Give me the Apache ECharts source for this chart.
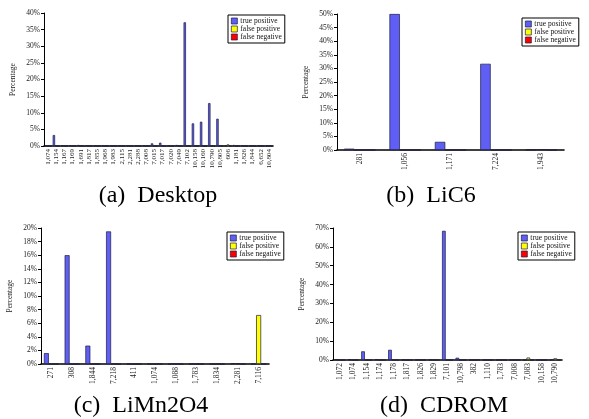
<!DOCTYPE html>
<html>
<head>
<meta charset="utf-8">
<script src="https://cdn.jsdelivr.net/npm/echarts@6/dist/echarts.min.js"></script>
<style>
html,body{margin:0;padding:0;background:#fff;}
#chart{width:589px;height:419px;}
</style>
</head>
<body>
<div id="chart"></div>
<script>
// ---- Data ----
const seriesNames = ['true positive', 'false positive', 'false negative'];

const desktopCats = ['1,074','1,154','1,167','1,169','1,691','1,817','1,855','1,968','1,983','2,115','2,281','2,288','7,008','7,015','7,017','7,020','7,049','7,102','10,158','10,160','10,790','10,805','606','1,181','1,826','1,844','6,652','10,804'];
const desktopTP = [0.1,3.3,0.1,0.2,0.3,0.1,0.1,0.1,0.1,0.1,0.1,0.1,0.1,0.8,1.0,0.1,0.3,37.2,6.8,7.3,12.9,8.2,0,0.3,0.1,0.1,0.1,0.1];
const desktopFP = [0,0,0,0,0,0,0,0,0,0,0,0,0,0,0,0,0,0,0,0,0,0,0.5,0,0,0,0,0];
const desktopFN = [0,0,0,0,0,0,0,0,0,0,0,0,0,0,0,0,0,0,0,0,0,0,0,0,0,0,0,0];

const lic6Cats = ['281','1,056','1,171','7,224','1,943'];
const lic6TP = [0.5,50,3,31.7,0.1];
const lic6FP = [0,0,0,0,0.3];
const lic6FN = [0,0,0,0,0];

const limnCats = ['271','308','1,844','7,218','411','1,074','1,088','1,783','1,834','2,281','7,116'];
const limnTP = [1.6,16,2.7,19.5,0,0,0,0,0,0.1,0];
const limnFP = [0,0,0,0,0,0,0,0,0,0.1,7.2];
const limnFN = [0,0,0,0,0,0,0,0,0,0,0];

const cdromCats = ['1,072','1,074','1,154','1,174','1,178','1,817','1,826','1,829','7,101','10,798','382','1,110','1,783','7,008','7,083','10,158','10,790'];
const cdromTP = [0.3,0.3,4.6,0.3,5.4,0.1,0.1,0.1,68.5,1.2,0,0,0,0,0,0,0];
const cdromFP = [0,0,0,0,0,0,0,0,0,0,0,0,0,0,1.3,0,0.9];
const cdromFN = [0,0,0,0,0,0,0,0,0,0,0,0,0,0,0,0,0];

const yMax = [40, 50, 20, 70];
const yStep = [5, 5, 2, 10];
const captions = ['(a)\u2002Desktop', '(b)\u2002LiC6', '(c)\u2002LiMn2O4', '(d)\u2002CDROM'];

// ---- Styling / layout ----
const serif = 'Liberation Serif, Times New Roman, serif';
const colors = ['#5f5ff5', '#ffff00', '#ff0000'];
const grids = [
  {left:44, top:13, width:229, height:133},
  {left:337, top:14, width:227, height:136},
  {left:41, top:228, width:228, height:136},
  {left:333, top:228, width:229, height:132}
];
const legendPos = [
  {left:228, top:15},
  {left:522, top:18},
  {left:227, top:232},
  {left:518, top:232}
];
const captionPos = [[158,196],[431,196],[141,406],[444,406]];

const panels = [
  {cats: desktopCats, data: [desktopTP, desktopFP, desktopFN], xfont: 7, bw: '29%'},
  {cats: lic6Cats, data: [lic6TP, lic6FP, lic6FN], xfont: 7.5, bw: '23%'},
  {cats: limnCats, data: [limnTP, limnFP, limnFN], xfont: 7.5, bw: '24%'},
  {cats: cdromCats, data: [cdromTP, cdromFP, cdromFN], xfont: 7.5, bw: '27%'}
];

const xAxis = [], yAxis = [], series = [], legend = [], graphic = [];
panels.forEach((p, i) => {
  xAxis.push({
    type:'category', gridIndex:i, data:p.cats, boundaryGap:true,
    axisLine:{lineStyle:{color:'#000', width:1.6}},
    axisTick:{inside:true, alignWithLabel:true, length:3, lineStyle:{color:'#000'}},
    axisLabel:{rotate:90, interval:0, fontSize:p.xfont, fontFamily:serif, color:'#222', margin:3},
    splitLine:{show:false}
  });
  yAxis.push({
    type:'value', gridIndex:i, min:0, max:yMax[i], interval:yStep[i],
    name:'Percentage', nameLocation:'middle', nameGap:27,
    nameTextStyle:{fontSize:7.5, fontFamily:serif, color:'#222'},
    axisLine:{show:true, lineStyle:{color:'#000', width:1}},
    axisTick:{show:true, length:3, lineStyle:{color:'#000'}},
    axisLabel:{formatter:'{value}%', fontSize:7.5, fontFamily:serif, color:'#222', margin:4},
    splitLine:{show:false}
  });
  p.data.forEach((vals, k) => {
    series.push({
      type:'bar', name:seriesNames[k], xAxisIndex:i, yAxisIndex:i,
      data:vals, barWidth:p.bw, barGap:'0%',
      itemStyle:{color:colors[k], borderColor:'#1c1c40', borderWidth:0.7},
      animation:false
    });
  });
  legend.push({
    left:legendPos[i].left, top:legendPos[i].top, orient:'vertical',
    data:seriesNames, selectedMode:false,
    itemWidth:6, itemHeight:6, itemGap:0, icon:'rect',
    padding:[2,3,2,3], borderColor:'#000', borderWidth:1, backgroundColor:'#fff',
    textStyle:{fontSize:7.5, lineHeight:7.5, fontFamily:serif, color:'#111', padding:[0,0,0,-2]},
    itemStyle:{borderColor:'#1c1c40', borderWidth:0.7}
  });
  graphic.push({
    type:'text', x:captionPos[i][0], y:captionPos[i][1],
    style:{text:captions[i], font:'24px ' + serif, fill:'#000',
      textAlign:'center', textVerticalAlign:'middle', align:'center', verticalAlign:'middle'}
  });
});

const chart = echarts.init(document.getElementById('chart'), null, {renderer:'canvas'});
chart.setOption({
  backgroundColor:'#fff',
  animation:false,
  grid:grids,
  xAxis:xAxis,
  yAxis:yAxis,
  legend:legend,
  series:series,
  graphic:graphic
});
</script>
</body>
</html>
